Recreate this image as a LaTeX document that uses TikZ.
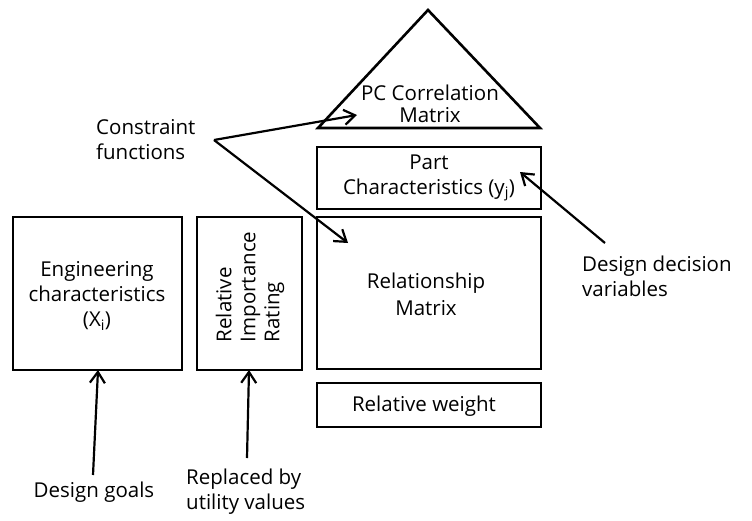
\documentclass[tikz,border=0pt]{standalone}
\usepackage{fontspec}
\setmainfont{Open Sans}
\usetikzlibrary{arrows.meta}
\tikzset{
  box/.style={draw, line width=2.6pt, inner sep=0pt},
  txt/.style={font=\fontsize{20.5}{25}\selectfont, align=center, inner sep=0pt},
  lbl/.style={font=\fontsize{20.5}{25}\selectfont, align=left, inner sep=0pt},
  pointer/.style={line width=2.2pt, -{Straight Barb[length=11pt,width=15pt,line width=2.2pt]}},
}
\begin{document}
\begin{tikzpicture}[x=1pt,y=-1pt]
\useasboundingbox (0,0) rectangle (752,520);

% house of quality blocks
\draw[box, line join=miter] (428,10) -- (540,128) -- (318,128) -- cycle;
\node[txt, font=\fontsize{20.5}{22}\selectfont] (pcm) at (430,104) {PC Correlation\\Matrix};

\draw[box] (317,147) rectangle (541,209);
\node[txt] (part) at (429,178) {Part\\Characteristics (y\textsubscript{j})};

\draw[box] (317,217) rectangle (541,369);
\node[txt, font=\fontsize{20.5}{27}\selectfont] (rel) at (426,294) {Relationship\\Matrix};

\draw[box] (317,383) rectangle (541,427);
\node[txt] (rw) at (424,406) {Relative weight};

\draw[box] (13,217) rectangle (182,370);
\node[txt] (eng) at (97,296) {Engineering\\characteristics\\(X\textsubscript{i})};

\draw[box] (197,217) rectangle (302,370);
\node[lbl, font=\fontsize{20.5}{24}\selectfont, rotate=90] (rir) at (250,287) {Relative\\Importance\\Rating};

% annotation labels
\node[lbl, anchor=west] (cf) at (96,140) {Constraint\\functions};
\node[lbl, anchor=west] (ddv) at (582,276) {Design decision\\variables};
\node[txt] (dg) at (94,492) {Design goals};
\node[lbl, anchor=west] (rbu) at (186,492) {Replaced by\\utility values};

% connector end points
\coordinate (cfj) at (214,140);
\coordinate (pcmtip) at (357,115);
\coordinate (reltip) at (348,243);
\coordinate (ddvtail) at (605,243);
\coordinate (parttip) at (520,172);
\coordinate (dgtail) at (93,475);
\coordinate (engtip) at (98,370);
\coordinate (rbutail) at (247,458);
\coordinate (rirtip) at (249,370);

\draw[pointer] (cfj) -- (pcmtip);
\draw[pointer] (cfj) -- (reltip);
\draw[pointer] (ddvtail) -- (parttip);
\draw[pointer] (dgtail) -- (engtip);
\draw[pointer] (rbutail) -- (rirtip);
\end{tikzpicture}
\end{document}
